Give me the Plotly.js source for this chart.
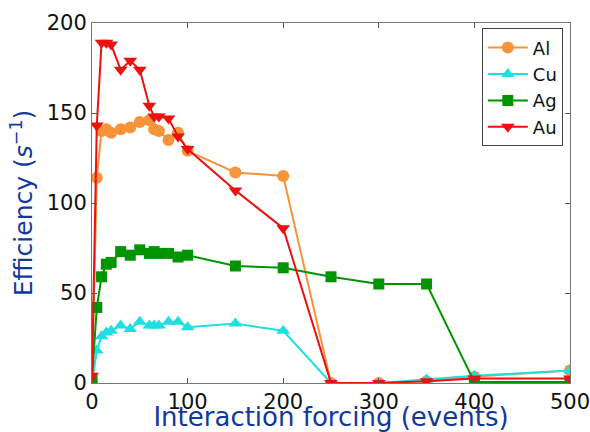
<!DOCTYPE html>
<html>
<head>
<meta charset="utf-8">
<script src="https://cdn.plot.ly/plotly-3.0.1.min.js"></script>
<style>html,body{margin:0;padding:0;background:#fff;}#chart{width:590px;height:432px;}</style>
</head>
<body>
<div id="chart"></div>
<script>
// Interaction forcing (events)
const xEvents = [0, 5, 10, 15, 20, 30, 40, 50, 60, 65, 70, 80, 90, 100, 150, 200, 250, 300, 350, 400, 500];
// Efficiency (s^-1)
const alValues = [0, 114, 140, 141, 139, 141, 142, 145, 146, 141, 140, 135, 139, 129, 117, 115, 0, 0, 1, 3.5, 7];
const cuValues = [0, 18, 26, 28, 29, 32, 30, 34, 32, 32, 32, 34, 34, 31, 33, 29, 0, 0, 2, 4, 7];
const agValues = [2, 42, 59, 66, 67, 73, 71, 74, 72, 73, 72, 72, 70, 71, 65, 64, 59, 55, 55, 0.5, 0.5];
const auValues = [4, 143, 189, 189, 188, 174, 179, 174, 154, 148, 148, 147, 137, 130, 107, 86, 0, 0, 1, 2.5, 2.5];
const seriesNames = ['Al', 'Cu', 'Ag', 'Au'];
const xTicks = [0, 100, 200, 300, 400, 500];
const yTicks = [0, 50, 100, 150, 200];

const styles = [
  {color: '#f7943a', symbol: 'circle', size: 12},
  {color: '#1fe0e0', symbol: 'triangle-up', size: 12},
  {color: '#009400', symbol: 'square', size: 11},
  {color: '#ee0f0f', symbol: 'triangle-down', size: 12}
];
const allValues = [alValues, cuValues, agValues, auValues];

const traces = allValues.map((vals, i) => ({
  type: 'scatter',
  mode: 'lines+markers',
  name: seriesNames[i],
  x: xEvents,
  y: vals,
  line: {color: styles[i].color, width: 2},
  marker: {color: styles[i].color, symbol: styles[i].symbol, size: styles[i].size}
}));

const axisCommon = {
  showline: true, mirror: 'ticks', linecolor: '#777', linewidth: 1,
  ticks: 'inside', ticklen: 5, tickcolor: '#555',
  showgrid: false, zeroline: false,
  ticklabeloverflow: 'allow',
  tickfont: {family: 'DejaVu Sans', size: 21, color: '#111'}
};

const layout = {
  width: 590, height: 432,
  margin: {l: 92, r: 20, t: 23, b: 49},
  paper_bgcolor: '#fff', plot_bgcolor: '#fff',
  showlegend: true,
  legend: {
    x: 0.985, y: 0.985, xanchor: 'right', yanchor: 'top',
    bgcolor: '#fff', bordercolor: '#444', borderwidth: 1,
    font: {family: 'DejaVu Sans', size: 18, color: '#111'},
    tracegroupgap: 0, itemwidth: 40
  },
  xaxis: Object.assign({}, axisCommon, {
    range: [0, 500], tickvals: xTicks, ticktext: xTicks.map(String),
    title: {text: 'Interaction forcing (events)', font: {family: 'DejaVu Sans', size: 26, color: '#13389a'}, standoff: 0}
  }),
  yaxis: Object.assign({}, axisCommon, {
    range: [0, 200], tickvals: yTicks, ticktext: yTicks.map(String),
    title: {text: 'Efficiency (<i>s</i><sup>−1</sup>)', font: {family: 'DejaVu Sans', size: 25, color: '#13389a'}, standoff: 6}
  })
};

Plotly.newPlot('chart', traces, layout, {staticPlot: true, displayModeBar: false});
</script>
</body>
</html>
